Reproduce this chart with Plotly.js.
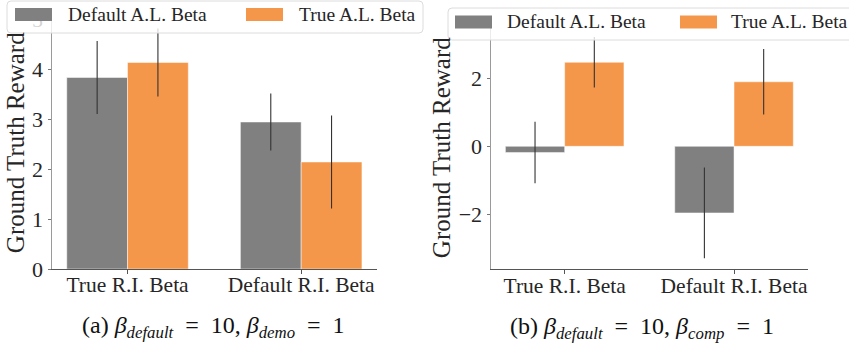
<!DOCTYPE html>
<html><head><meta charset="utf-8">
<script src="https://cdn.plot.ly/plotly-3.0.1.min.js"></script>
<style>html,body{margin:0;padding:0;background:#fff}#chart{width:849px;height:343px}</style>
</head><body><div id="chart"></div>
<script>
// ---- data ----
const categories = ['True R.I. Beta', 'Default R.I. Beta'];
const seriesNames = ['Default A.L. Beta', 'True A.L. Beta'];
const seriesColors = ['#808080', '#F5974A'];
// panel (a): beta_default=10, beta_demo=1
const demoDefaultAL = [3.83, 2.94];
const demoDefaultALErr = [0.73, 0.57];
const demoTrueAL = [4.13, 2.14];
const demoTrueALErr = [0.68, 0.93];
// panel (b): beta_default=10, beta_comp=1
const compDefaultAL = [-0.18, -1.95];
const compDefaultALErr = [0.90, 1.33];
const compTrueAL = [2.46, 1.89];
const compTrueALErr = [0.74, 0.96];
const yTicksA = [0, 1, 2, 3, 4, 5];
const yTicksB = [-2, 0, 2];
const yTitle = 'Ground Truth Reward';
const sub = s => '<sub><i>' + s + '</i></sub>';
const captions = [
  '(a) <i>β</i>' + sub('default') + '\u2002=\u200210, <i>β</i>' + sub('demo') + '\u2002=\u20021',
  '(b) <i>β</i>' + sub('default') + '\u2002=\u200210, <i>β</i>' + sub('comp') + '\u2002=\u20021'
];

// ---- layout helpers ----
const W = 849, H = 343;
const px = x => x / W;
const py = y => 1 - y / H;
const FONT = 'Liberation Serif, Times New Roman, serif';
const TXT = '#262626';

function bar(xa, ya, vals, errs, i) {
  return {
    type: 'bar', x: categories, y: vals, name: seriesNames[i],
    xaxis: xa, yaxis: ya, showlegend: false,
    marker: {color: seriesColors[i], line: {color: 'rgba(255,255,255,0.6)', width: 0.8}},
    error_y: {type: 'data', array: errs, visible: true, color: '#333333', thickness: 1.1, width: 0}
  };
}
const data = [
  bar('x', 'y', demoDefaultAL, demoDefaultALErr, 0),
  bar('x', 'y', demoTrueAL, demoTrueALErr, 1),
  bar('x2', 'y2', compDefaultAL, compDefaultALErr, 0),
  bar('x2', 'y2', compTrueAL, compTrueALErr, 1)
];

function xax(domain) {
  return {
    domain: domain, type: 'category', range: [-0.435, 1.435],
    showline: true, linecolor: '#555', linewidth: 1, ticks: 'outside', ticklen: 3.5,
    tickcolor: '#555', showgrid: false, zeroline: false, ticklabelstandoff: -7,
    tickfont: {family: FONT, size: 21.5, color: TXT}, fixedrange: true
  };
}
function yax(domain, range, ticks, anchor) {
  return {
    domain: domain, range: range, tickvals: ticks, anchor: anchor,
    showline: true, linecolor: '#9a9a9a', linewidth: 1, ticks: 'outside', ticklen: 3.5,
    tickcolor: '#777', showgrid: false, zeroline: false,
    tickfont: {family: FONT, size: 22, color: TXT},
    title: {text: yTitle, font: {family: FONT, size: 25, color: TXT}, standoff: 0},
    automargin: false, fixedrange: true
  };
}

function roundRect(x0, y0, x1, y1, r) {
  const X0 = px(x0), X1 = px(x1), Y0 = py(y0), Y1 = py(y1);
  const rx = r / W, ry = r / H;
  return `M${X0 + rx},${Y0} L${X1 - rx},${Y0} Q${X1},${Y0} ${X1},${Y0 - ry} L${X1},${Y1 + ry} Q${X1},${Y1} ${X1 - rx},${Y1} L${X0 + rx},${Y1} Q${X0},${Y1} ${X0},${Y1 + ry} L${X0},${Y0 - ry} Q${X0},${Y0} ${X0 + rx},${Y0} Z`;
}

const shapes = [];
const annotations = [];
function legend(box, patches, texts, cy) {
  shapes.push({type: 'path', xref: 'paper', yref: 'paper', path: roundRect(box[0], box[1], box[2], box[3], 4),
    fillcolor: 'rgba(255,255,255,0.8)', line: {color: '#dcdcdc', width: 1}, layer: 'above'});
  for (let i = 0; i < 2; i++) {
    shapes.push({type: 'rect', xref: 'paper', yref: 'paper', x0: px(patches[i]), x1: px(patches[i] + 37),
      y0: py(cy + 6.5), y1: py(cy - 6.5), fillcolor: seriesColors[i], line: {width: 0}, layer: 'above'});
    annotations.push({xref: 'paper', yref: 'paper', x: px(texts[i]), y: py(cy), xanchor: 'left', yanchor: 'middle',
      text: seriesNames[i], showarrow: false, font: {family: FONT, size: 19.5, color: TXT}});
  }
}
legend([7, 1, 423, 33], [15, 246], [66, 297], 14.5);
legend([448, 8, 855, 40], [455, 680], [505, 729], 22);

annotations.push({xref: 'paper', yref: 'paper', x: px(213), y: py(327), xanchor: 'center', yanchor: 'middle',
  text: captions[0], showarrow: false, font: {family: FONT, size: 24, color: '#111'}});
annotations.push({xref: 'paper', yref: 'paper', x: px(642), y: py(328), xanchor: 'center', yanchor: 'middle',
  text: captions[1], showarrow: false, font: {family: FONT, size: 24, color: '#111'}});

const layout = {
  width: W, height: H, margin: {l: 0, r: 0, t: 0, b: 0},
  paper_bgcolor: '#fff', plot_bgcolor: '#fff',
  barmode: 'group', bargap: 0.3, bargroupgap: 0,
  showlegend: false,
  xaxis: xax([px(52), px(376.7)]),
  yaxis: yax([py(269), py(16.5)], [0, 5.05], yTicksA, 'x'),
  xaxis2: Object.assign(xax([px(491), px(807.7)]), {anchor: 'y2'}),
  yaxis2: yax([py(269.3), py(26.1)], [-3.6, 3.52], yTicksB, 'x2'),
  shapes: shapes, annotations: annotations
};
layout.xaxis.anchor = 'y';
Plotly.newPlot('chart', data, layout, {displayModeBar: false, staticPlot: true});
</script></body></html>
